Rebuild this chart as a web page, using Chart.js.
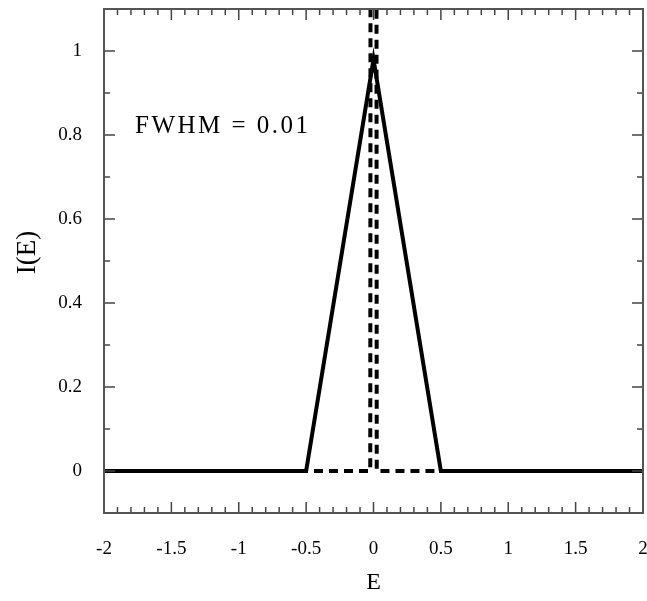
<!DOCTYPE html>
<html><head><meta charset="utf-8">
<script src="https://cdn.jsdelivr.net/npm/chart.js@4/dist/chart.umd.min.js"></script>
<style>html,body{margin:0;padding:0;background:#fff}#c{display:block}</style>
</head><body>
<canvas id="c" width="647" height="601"></canvas>
<script>
const broadX = [-2, -0.5, 0, 0.5, 2];
const broadY = [0, 0, 0.98, 0, 0];
const narrowX = [-2, -0.024, 0, 0.024, 2];
const narrowY = [0, 0, 15, 0, 0];
const xTicks = [-2, -1.5, -1, -0.5, 0, 0.5, 1, 1.5, 2];
const yTicks = [0, 0.2, 0.4, 0.6, 0.8, 1];
const xMinor = [-1.9,-1.8,-1.7,-1.6,-1.4,-1.3,-1.2,-1.1,-0.9,-0.8,-0.7,-0.6,-0.4,-0.3,-0.2,-0.1,0.1,0.2,0.3,0.4,0.6,0.7,0.8,0.9,1.1,1.2,1.3,1.4,1.6,1.7,1.8,1.9];
const yMinor = [-0.1, 0.1, 0.3, 0.5, 0.7, 0.9, 1.1];
const annotation = "FWHM = 0.01";
const yTitle = "I(E)";

const FONT = "'Liberation Serif', 'DejaVu Serif', serif";
const toPts = (xs, ys) => xs.map((x, i) => ({x, y: ys[i]}));

const ticksPlugin = {
  id: 'inticks',
  afterDatasetsDraw(chart) {
    const {ctx, chartArea: a, scales: {x, y}} = chart;
    ctx.save();
    ctx.strokeStyle = '#444';
    ctx.lineWidth = 1.5;
    const tick = (px, py, dx, dy) => { ctx.beginPath(); ctx.moveTo(px, py); ctx.lineTo(px + dx, py + dy); ctx.stroke(); };
    xTicks.forEach(v => { const p = x.getPixelForValue(v); tick(p, a.bottom, 0, -11); tick(p, a.top, 0, 11); });
    xMinor.forEach(v => { const p = x.getPixelForValue(v); tick(p, a.bottom, 0, -6); tick(p, a.top, 0, 6); });
    yTicks.forEach(v => { const p = y.getPixelForValue(v); tick(a.left, p, 11, 0); tick(a.right, p, -11, 0); });
    yMinor.forEach(v => { const p = y.getPixelForValue(v); tick(a.left, p, 6, 0); tick(a.right, p, -6, 0); });
    ctx.strokeStyle = '#555';
    ctx.lineWidth = 2;
    ctx.strokeRect(a.left, a.top, a.right - a.left, a.bottom - a.top);
    ctx.fillStyle = '#000';
    ctx.textBaseline = 'middle';
    // y-axis title
    ctx.save();
    ctx.font = "27px " + FONT;
    ctx.textAlign = 'center';
    ctx.translate(28, y.getPixelForValue(0.52));
    ctx.rotate(-Math.PI / 2);
    ctx.fillText(yTitle, 0, 0);
    ctx.restore();
    ctx.font = "25px " + FONT;
    ctx.textAlign = 'left';
    if (ctx.letterSpacing !== undefined) ctx.letterSpacing = '2.5px';
    ctx.fillText(annotation, x.getPixelForValue(-1.77), y.getPixelForValue(0.82));
    ctx.restore();
  }
};

new Chart(document.getElementById('c'), {
  type: 'scatter',
  data: {
    datasets: [
      { data: toPts(narrowX, narrowY), showLine: true, borderColor: '#000', borderWidth: 4, borderDash: [9, 6], pointRadius: 0, fill: false },
      { data: toPts(broadX, broadY), showLine: true, borderColor: '#000', borderWidth: 4, pointRadius: 0, fill: false }
    ]
  },
  plugins: [ticksPlugin],
  options: {
    responsive: false,
    animation: false,
    layout: { padding: { left: 0, right: 4, top: 9, bottom: 0 } },
    plugins: { legend: { display: false }, tooltip: { enabled: false } },
    scales: {
      x: {
        type: 'linear', min: -2, max: 2,
        afterBuildTicks: s => { s.ticks = xTicks.map(v => ({value: v})); },
        afterFit: s => { s.height = 88; s.paddingLeft = 0; s.paddingRight = 0; },
        grid: { display: false, drawTicks: false },
        border: { display: false },
        ticks: { color: '#000', font: { family: FONT, size: 19 }, padding: 25, maxRotation: 0, callback: v => String(v) },
        title: { display: true, text: 'E', color: '#000', font: { family: FONT, size: 24 }, padding: { top: 4 } }
      },
      y: {
        type: 'linear', min: -0.1, max: 1.1,
        afterBuildTicks: s => { s.ticks = yTicks.map(v => ({value: v})); },
        afterFit: s => { s.width = 104; s.paddingTop = 0; s.paddingBottom = 0; },
        grid: { display: false, drawTicks: false },
        border: { display: false },
        ticks: { color: '#000', font: { family: FONT, size: 19 }, padding: 22, callback: v => String(v) },
        title: { display: false }
      }
    }
  }
});
</script>
</body></html>
